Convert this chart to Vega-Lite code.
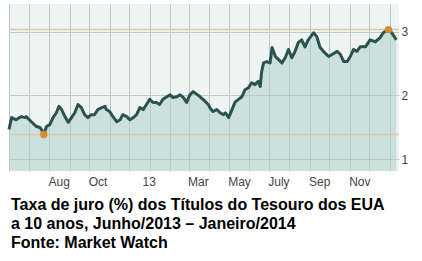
{
  "$schema": "https://vega.github.io/schema/vega-lite/v6.json",
  "width": 390,
  "height": 167,
  "autosize": "none",
  "padding": {"left": 9, "top": 4, "right": 23, "bottom": 90},
  "background": "white",
  "view": {"fill": "#eef4f2", "stroke": null},
  "title": {
    "text": ["Taxa de juro (%) dos Títulos do Tesouro dos EUA", "a 10 anos, Junho/2013 – Janeiro/2014", "Fonte: Market Watch"],
    "orient": "bottom",
    "anchor": "start",
    "frame": "group",
    "font": "Liberation Sans",
    "fontSize": 16,
    "fontWeight": "bold",
    "color": "#000000",
    "lineHeight": 19,
    "dx": 2,
    "offset": 10
  },
  "data": {"values": [
    {"date": "2012-06-01", "v": 1.47},
    {"date": "2012-06-05", "v": 1.655},
    {"date": "2012-06-08", "v": 1.64},
    {"date": "2012-06-12", "v": 1.62},
    {"date": "2012-06-16", "v": 1.65},
    {"date": "2012-06-20", "v": 1.67},
    {"date": "2012-06-25", "v": 1.655},
    {"date": "2012-06-27", "v": 1.67},
    {"date": "2012-07-01", "v": 1.63},
    {"date": "2012-07-05", "v": 1.59},
    {"date": "2012-07-09", "v": 1.55},
    {"date": "2012-07-13", "v": 1.515},
    {"date": "2012-07-18", "v": 1.5},
    {"date": "2012-07-21", "v": 1.46},
    {"date": "2012-07-24", "v": 1.39},
    {"date": "2012-07-28", "v": 1.515},
    {"date": "2012-08-02", "v": 1.545},
    {"date": "2012-08-07", "v": 1.655},
    {"date": "2012-08-12", "v": 1.73},
    {"date": "2012-08-16", "v": 1.83},
    {"date": "2012-08-20", "v": 1.78},
    {"date": "2012-08-25", "v": 1.67},
    {"date": "2012-08-30", "v": 1.58},
    {"date": "2012-09-04", "v": 1.655},
    {"date": "2012-09-09", "v": 1.73},
    {"date": "2012-09-14", "v": 1.86},
    {"date": "2012-09-19", "v": 1.81},
    {"date": "2012-09-24", "v": 1.7},
    {"date": "2012-09-29", "v": 1.655},
    {"date": "2012-10-04", "v": 1.7},
    {"date": "2012-10-09", "v": 1.7},
    {"date": "2012-10-14", "v": 1.78},
    {"date": "2012-10-20", "v": 1.81},
    {"date": "2012-10-25", "v": 1.83},
    {"date": "2012-10-27", "v": 1.78},
    {"date": "2012-11-01", "v": 1.75},
    {"date": "2012-11-06", "v": 1.67},
    {"date": "2012-11-12", "v": 1.59},
    {"date": "2012-11-17", "v": 1.62},
    {"date": "2012-11-21", "v": 1.7},
    {"date": "2012-11-27", "v": 1.67},
    {"date": "2012-12-02", "v": 1.62},
    {"date": "2012-12-07", "v": 1.655},
    {"date": "2012-12-12", "v": 1.7},
    {"date": "2012-12-17", "v": 1.81},
    {"date": "2012-12-22", "v": 1.78},
    {"date": "2012-12-27", "v": 1.86},
    {"date": "2013-01-01", "v": 1.94},
    {"date": "2013-01-06", "v": 1.89},
    {"date": "2013-01-11", "v": 1.89},
    {"date": "2013-01-16", "v": 1.86},
    {"date": "2013-01-21", "v": 1.94},
    {"date": "2013-01-27", "v": 1.98},
    {"date": "2013-02-01", "v": 2.01},
    {"date": "2013-02-05", "v": 1.97},
    {"date": "2013-02-11", "v": 1.98},
    {"date": "2013-02-16", "v": 2.01},
    {"date": "2013-02-21", "v": 1.97},
    {"date": "2013-02-26", "v": 1.89},
    {"date": "2013-03-03", "v": 2.01},
    {"date": "2013-03-08", "v": 2.06},
    {"date": "2013-03-15", "v": 2.01},
    {"date": "2013-03-23", "v": 1.94},
    {"date": "2013-03-31", "v": 1.86},
    {"date": "2013-04-03", "v": 1.8},
    {"date": "2013-04-07", "v": 1.75},
    {"date": "2013-04-13", "v": 1.78},
    {"date": "2013-04-18", "v": 1.73},
    {"date": "2013-04-23", "v": 1.7},
    {"date": "2013-04-26", "v": 1.73},
    {"date": "2013-05-01", "v": 1.655},
    {"date": "2013-05-06", "v": 1.78},
    {"date": "2013-05-11", "v": 1.9},
    {"date": "2013-05-16", "v": 1.94},
    {"date": "2013-05-21", "v": 1.98},
    {"date": "2013-05-26", "v": 2.09},
    {"date": "2013-05-31", "v": 2.12},
    {"date": "2013-06-05", "v": 2.2},
    {"date": "2013-06-10", "v": 2.17},
    {"date": "2013-06-15", "v": 2.22},
    {"date": "2013-06-18", "v": 2.14},
    {"date": "2013-06-20", "v": 2.36},
    {"date": "2013-06-23", "v": 2.51},
    {"date": "2013-06-28", "v": 2.53},
    {"date": "2013-07-03", "v": 2.51},
    {"date": "2013-07-06", "v": 2.75},
    {"date": "2013-07-11", "v": 2.61},
    {"date": "2013-07-16", "v": 2.56},
    {"date": "2013-07-21", "v": 2.51},
    {"date": "2013-07-26", "v": 2.59},
    {"date": "2013-07-31", "v": 2.72},
    {"date": "2013-08-05", "v": 2.59},
    {"date": "2013-08-10", "v": 2.69},
    {"date": "2013-08-15", "v": 2.83},
    {"date": "2013-08-20", "v": 2.87},
    {"date": "2013-08-25", "v": 2.76},
    {"date": "2013-08-30", "v": 2.87},
    {"date": "2013-09-07", "v": 2.98},
    {"date": "2013-09-12", "v": 2.92},
    {"date": "2013-09-17", "v": 2.75},
    {"date": "2013-09-22", "v": 2.69},
    {"date": "2013-09-30", "v": 2.61},
    {"date": "2013-10-05", "v": 2.64},
    {"date": "2013-10-13", "v": 2.69},
    {"date": "2013-10-18", "v": 2.64},
    {"date": "2013-10-23", "v": 2.53},
    {"date": "2013-10-28", "v": 2.53},
    {"date": "2013-11-02", "v": 2.61},
    {"date": "2013-11-07", "v": 2.72},
    {"date": "2013-11-12", "v": 2.69},
    {"date": "2013-11-17", "v": 2.76},
    {"date": "2013-11-25", "v": 2.76},
    {"date": "2013-12-02", "v": 2.87},
    {"date": "2013-12-10", "v": 2.84},
    {"date": "2013-12-17", "v": 2.9},
    {"date": "2013-12-22", "v": 2.98},
    {"date": "2013-12-30", "v": 3.03},
    {"date": "2014-01-04", "v": 2.98},
    {"date": "2014-01-09", "v": 2.9},
    {"date": "2014-01-11", "v": 2.87}
  ]},
  "encoding": {
    "x": {
      "field": "date", "type": "temporal",
      "scale": {"type": "utc", "domain": [{"year": 2012, "month": 6, "date": 1, "utc": true}, {"year": 2014, "month": 1, "date": 15, "utc": true}]},
      "axis": {
        "title": null,
        "domain": false,
        "ticks": false,
        "grid": true,
        "gridColor": "#b9cac7",
        "gridWidth": 1,
        "values": [
          {"year": 2012, "month": 6, "date": 1, "utc": true},
          {"year": 2012, "month": 7, "date": 1, "utc": true},
          {"year": 2012, "month": 8, "date": 1, "utc": true},
          {"year": 2012, "month": 9, "date": 1, "utc": true},
          {"year": 2012, "month": 10, "date": 1, "utc": true},
          {"year": 2012, "month": 11, "date": 1, "utc": true},
          {"year": 2012, "month": 12, "date": 1, "utc": true},
          {"year": 2013, "month": 1, "date": 1, "utc": true},
          {"year": 2013, "month": 2, "date": 1, "utc": true},
          {"year": 2013, "month": 3, "date": 1, "utc": true},
          {"year": 2013, "month": 4, "date": 1, "utc": true},
          {"year": 2013, "month": 5, "date": 1, "utc": true},
          {"year": 2013, "month": 6, "date": 1, "utc": true},
          {"year": 2013, "month": 7, "date": 1, "utc": true},
          {"year": 2013, "month": 8, "date": 1, "utc": true},
          {"year": 2013, "month": 9, "date": 1, "utc": true},
          {"year": 2013, "month": 10, "date": 1, "utc": true},
          {"year": 2013, "month": 11, "date": 1, "utc": true},
          {"year": 2013, "month": 12, "date": 1, "utc": true},
          {"year": 2014, "month": 1, "date": 1, "utc": true}
        ],
        "labelExpr": "indexof(['2012-08','2012-10','2013-01','2013-03','2013-05','2013-07','2013-09','2013-11'], utcFormat(datum.value, '%Y-%m')) < 0 ? '' : (utcmonth(datum.value) == 0 ? '13' : (utcmonth(datum.value) == 6 ? 'July' : utcFormat(datum.value, '%b')))",
        "labelAlign": {"condition": {"test": "utcmonth(datum.value) == 0", "value": "center"}, "value": "left"},
        "labelOffset": -1,
        "labelPadding": 5,
        "labelFont": "Liberation Sans",
        "labelFontSize": 12,
        "labelColor": "#444444",
        "labelOverlap": false,
        "labelBound": false,
        "labelFlush": false
      }
    },
    "y": {
      "field": "v", "type": "quantitative",
      "scale": {"domain": [0.82, 3.43], "zero": false, "nice": false},
      "axis": {
        "orient": "right",
        "title": null,
        "domain": false,
        "ticks": false,
        "grid": true,
        "gridColor": "#b9cac7",
        "values": [1, 2, 3],
        "labelPadding": 2,
        "labelFont": "Liberation Sans",
        "labelFontSize": 12,
        "labelColor": "#444444"
      }
    }
  },
  "layer": [
    {"mark": {"type": "area", "color": "#b0d0ce", "opacity": 0.55, "clip": true}},
    {
      "data": {"values": [{"r": 1.39}, {"r": 3.03}]},
      "mark": {"type": "rule", "color": "#e2c7a6", "strokeWidth": 1.5},
      "encoding": {"y": {"field": "r", "type": "quantitative"}, "x": null}
    },
    {"mark": {"type": "line", "color": "#2c5250", "strokeWidth": 3, "strokeJoin": "round"}},
    {
      "transform": [{"filter": "datum.v == 1.39 || datum.v == 3.03"}],
      "mark": {"type": "point", "filled": true, "color": "#d98b33", "size": 55, "opacity": 1}
    },
    {
      "transform": [{"filter": "datum.date == '2014-01-11'"}],
      "mark": {"type": "point", "filled": true, "color": "#2c5250", "size": 50, "opacity": 1}
    }
  ]
}
